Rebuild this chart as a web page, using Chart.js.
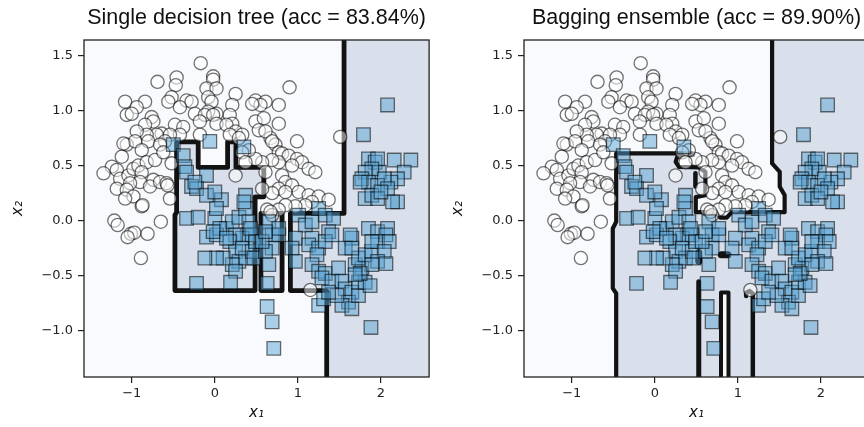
<!DOCTYPE html>
<html><head><meta charset="utf-8">
<script src="https://cdn.jsdelivr.net/npm/chart.js@4.4.1/dist/chart.umd.min.js"></script>
<style>
html,body{margin:0;padding:0;background:#fff;overflow:hidden;width:864px;height:427px;position:relative;}
canvas{position:absolute;top:0;}
#c1{left:0;} #c2{left:440px;}
</style></head><body>
<canvas id="c1" width="440" height="427"></canvas>
<canvas id="c2" width="440" height="427"></canvas>
<script>
// ---------- DATA ----------
const panelTitles = ['Single decision tree (acc = 83.84%)', 'Bagging ensemble (acc = 89.90%)'];
const xTickValues = [-1, 0, 1, 2];
const xTickLabels = ['\u22121', '0', '1', '2'];
const yTickValues = [-1.0, -0.5, 0.0, 0.5, 1.0, 1.5];
const yTickLabels = ['\u22121.0', '\u22120.5', '0.0', '0.5', '1.0', '1.5'];
const xRange = [-1.575, 2.58];
const yRange = [-1.42, 1.64];

// class 0 (circles)
const class0X = [-0.17,-0.02,-0.46,-0.02,-0.69,-0.47,-0.10,0.02,0.90,0.25,-1.08,-0.84,-0.94,-0.52,-0.56,-0.34,-0.28,-0.42,-0.08,-0.04,
0.49,0.61,0.77,0.55,0.45,0.21,0.02,-0.08,-0.24,-0.12,-0.02,0.18,-1.06,-1.00,-0.76,-0.74,-0.84,-0.64,-0.48,-0.38,
-0.18,0.02,0.21,0.14,0.49,0.59,0.77,0.53,0.25,0.18,0.33,-0.18,-0.42,-0.54,-0.70,-0.82,-0.94,-1.06,-0.96,-0.80,
-0.88,-0.60,0.29,0.67,0.73,0.99,0.61,0.69,0.77,0.81,0.89,0.99,1.05,1.13,1.21,0.93,0.77,0.69,0.57,0.49,
0.41,0.33,0.37,0.25,0.61,0.81,0.85,0.93,0.77,0.85,0.69,0.57,1.01,1.13,1.25,1.17,1.09,0.97,0.85,0.77,
0.63,0.69,1.37,1.51,-1.12,-1.24,-1.34,-1.18,-1.14,-1.04,-0.98,-0.92,-0.82,-0.72,-0.88,-0.74,-0.90,-1.02,-1.18,-1.06,
-0.78,-0.98,-1.08,-0.88,-0.66,-0.58,-0.52,-0.54,-1.21,-1.17,-1.01,-0.97,-1.05,-0.81,-0.65,-0.89,-0.66,-0.62,-1.10,1.15,
0.67,-0.57,-0.87];
const class0Y = [1.43,1.31,1.30,1.28,1.26,1.23,1.20,1.20,1.21,1.15,1.08,1.08,1.03,1.12,1.08,1.09,1.08,1.03,1.12,1.08,
1.09,1.08,1.05,1.05,1.06,1.05,0.97,0.99,0.97,0.96,0.96,0.96,0.96,0.97,0.94,0.90,0.87,0.79,0.87,0.85,
0.90,0.88,0.88,0.87,0.90,0.93,0.88,0.82,0.81,0.78,0.78,0.78,0.78,0.78,0.78,0.78,0.81,0.69,0.72,0.72,
0.64,0.72,0.75,0.75,0.69,0.72,0.81,0.72,0.62,0.61,0.59,0.56,0.53,0.47,0.44,0.50,0.53,0.55,0.53,0.56,
0.64,0.62,0.53,0.41,0.44,0.41,0.35,0.32,0.29,0.26,0.25,0.29,0.26,0.23,0.22,0.17,0.14,0.13,0.14,0.10,
0.10,0.05,0.19,0.76,0.58,0.49,0.43,0.46,0.38,0.41,0.47,0.50,0.53,0.55,0.44,0.37,0.35,0.34,0.29,0.28,
0.31,0.22,0.20,0.13,0.35,0.34,0.52,0.20,0.00,-0.04,-0.12,-0.11,-0.15,-0.12,-0.01,-0.34,0.69,0.62,0.70,-0.63,
0.08,0.32,0.14];

// class 1 (squares)
const class1X = [-0.50,-0.38,-0.36,-0.34,-0.06,-0.10,-0.28,-0.22,-0.24,-0.34,-0.20,0.00,0.08,0.02,-0.10,0.00,0.14,0.21,0.29,0.37,
0.37,0.35,0.41,0.39,0.33,0.25,0.18,0.25,0.29,0.37,0.33,0.21,0.25,0.10,0.02,-0.12,-0.10,0.02,0.06,-0.02,
-0.22,0.19,0.14,0.45,0.45,0.49,0.43,0.47,0.65,0.69,0.77,0.69,0.61,0.65,0.63,0.77,0.57,0.61,0.63,0.69,
0.71,1.01,1.09,1.17,1.25,1.33,1.43,1.17,0.97,0.93,0.97,1.13,1.25,1.37,1.33,1.41,1.23,1.17,1.25,1.33,
1.29,1.41,1.49,1.53,1.57,1.65,1.61,1.53,1.65,1.25,1.31,1.47,1.37,1.73,1.73,1.81,1.87,1.77,1.69,1.73,
1.81,1.89,1.65,1.63,1.57,1.65,1.85,1.96,2.08,2.06,1.96,1.89,2.10,2.04,1.96,2.06,1.89,1.75,1.69,1.88,
2.08,1.79,1.85,1.93,1.96,2.16,2.36,2.28,2.20,2.12,1.98,1.89,1.81,1.77,1.85,1.75,1.96,2.04,2.08,2.20,
2.14,1.81,1.89,1.96,2.00,0.35];
const class1Y = [0.69,0.59,0.49,0.44,0.72,0.41,0.31,0.29,0.35,0.02,0.03,0.02,0.19,0.11,0.23,0.26,-0.07,-0.01,0.03,0.23,
0.11,0.17,-0.01,-0.13,-0.16,-0.13,-0.19,-0.28,-0.37,-0.34,-0.25,-0.40,-0.46,-0.34,-0.34,-0.34,-0.15,-0.13,-0.07,-0.10,
-0.57,-0.56,-0.16,-0.13,-0.28,-0.19,-0.07,-0.34,-0.01,-0.13,-0.13,-0.25,-0.28,-0.40,-0.57,-0.07,-0.19,-0.10,-0.78,-0.92,
-1.16,0.05,-0.04,-0.01,0.11,0.05,0.02,-0.16,-0.16,-0.25,-0.37,-0.22,-0.25,-0.10,-0.19,-0.13,-0.31,-0.40,-0.46,-0.48,
-0.52,-0.55,-0.43,-0.55,-0.62,-0.65,-0.74,-0.77,-0.80,-0.77,-0.71,-0.68,-0.65,-0.68,-0.56,-0.56,-0.59,-0.43,-0.40,-0.34,
-0.31,-0.28,-0.16,-0.13,-0.25,-0.25,-0.07,-0.10,-0.07,-0.13,-0.19,-0.19,-0.19,-0.28,-0.37,-0.39,-0.40,-0.48,-0.49,-0.97,
1.05,0.78,0.56,0.53,0.56,0.55,0.55,0.44,0.38,0.35,0.44,0.47,0.44,0.38,0.35,0.35,0.32,0.38,0.29,0.17,
0.17,0.20,0.23,0.20,0.26,0.67];

// decision boundaries (data space)
const treeBoxA = [[-0.46,0.715],[-0.20,0.715],[-0.20,0.483],[0.154,0.483],[0.154,0.715],[0.254,0.715],[0.254,0.483],[0.59,0.483],[0.59,0.216],[0.485,0.216],[0.485,-0.635],[-0.48,-0.635],[-0.48,0.05],[-0.46,0.075],[-0.46,0.715]];
const treeBoxB = [[0.555,0.065],[0.81,0.065],[0.81,-0.635],[0.555,-0.635],[0.555,0.065]];
const treeEdgeC = [[1.556,1.64],[1.556,0.065],[0.91,0.065],[0.91,-0.635],[1.347,-0.635],[1.347,-1.42]];
const bagEdge = [[1.412,1.64],[1.412,0.519],[1.504,0.443],[1.504,0.307],[1.563,0.231],[1.563,0.077],[0.926,0.077],[0.866,0.027],[0.788,0.027],[0.728,0.077],[0.493,0.077],[0.493,0.213],[0.609,0.231],[0.609,0.443],[0.529,0.483],[0.290,0.488],[0.251,0.534],[0.270,0.579],[0.385,0.610],[-0.465,0.610],[-0.465,-0.011],[-0.506,-0.071],[-0.506,-0.615],[-0.465,-0.661],[-0.465,-1.42]];
const bagSliver = [[0.489,0.43],[0.489,0.31]];
const bagDotA = [[0.425,0.603],[0.45,0.603]];
const bagDotB = [[0.529,-0.29],[0.529,-0.37]];
const bagDotC = [[0.80,-0.31],[0.88,-0.31]];
const bagStem = [[0.529,-0.555],[0.529,-1.42]];
const bagU = [[0.797,-1.42],[0.797,-0.653],[0.887,-0.653],[0.887,-1.42]];
const bagHook = [[1.18,-1.42],[1.18,-0.665],[1.14,-0.64],[1.10,-0.655],[1.10,-0.685]];

// ---------- STYLE ----------
const COL0 = '#f8fafd', COL1 = '#d9e0eb', LINE = '#121212';

function pts(arr){ return arr.map(p => ({x:p[0], y:p[1]})); }
function zipXY(xs, ys){ return xs.map((v,i) => ({x:v, y:ys[i]})); }

function regionPlugin(base, polys){
  return { id:'regions', beforeDatasetsDraw(chart){
    const {ctx, chartArea:a, scales:{x, y}} = chart;
    ctx.save();
    ctx.beginPath(); ctx.rect(a.left, a.top, a.width, a.height); ctx.clip();
    ctx.fillStyle = base; ctx.fillRect(a.left, a.top, a.width, a.height);
    polys.forEach(p => {
      ctx.fillStyle = p.color; ctx.beginPath();
      p.pts.forEach((v,i) => { const px = x.getPixelForValue(v[0]), py = y.getPixelForValue(v[1]); if(i) ctx.lineTo(px,py); else ctx.moveTo(px,py); });
      ctx.closePath(); ctx.fill();
    });
    ctx.restore();
  }};
}
const framePlugin = { id:'frame', afterDraw(chart){
  const {ctx, chartArea:a} = chart;
  ctx.save(); ctx.strokeStyle = '#222'; ctx.lineWidth = 1.3;
  ctx.strokeRect(a.left, a.top, a.width, a.height); ctx.restore();
}};

function lineDs(arr, w, order){
  return { type:'scatter', showLine:true, data:pts(arr), borderColor:LINE, borderWidth:w, pointRadius:0,
    borderJoinStyle:'round', borderCapStyle:'round', fill:false, order:order };
}
function pointDatasets(){
  return [
    { data: zipXY(class1X, class1Y), pointStyle:'rect', pointRadius:9.6, backgroundColor:'rgba(85,160,210,0.48)', borderColor:'rgba(0,0,0,0.55)', borderWidth:1.3, order:0 },
    { data: zipXY(class0X, class0Y), pointStyle:'circle', pointRadius:6.6, backgroundColor:'rgba(255,255,255,0.5)', borderColor:'rgba(0,0,0,0.55)', borderWidth:1.3, order:1 }
  ];
}
function options(title){
  return {
    responsive:false, animation:false, devicePixelRatio:1,
    layout:{ padding:{ left:0, right:8, top:0, bottom:0 } },
    plugins:{ legend:{display:false}, tooltip:{enabled:false},
      title:{ display:true, text:title, fullSize:false, color:'#111', font:{family:'Liberation Sans', size:21.5, weight:'normal', lineHeight:1.1}, padding:{top:6, bottom:10.35} } },
    scales:{
      x:{ type:'linear', min:xRange[0], max:xRange[1],
        afterBuildTicks: s => { s.ticks = xTickValues.map(v => ({value:v})); },
        afterFit: s => { s.height = 50; },
        ticks:{ callback:(v,i) => xTickLabels[i], color:'#222', font:{family:'DejaVu Sans', size:13}, padding:3, maxRotation:0 },
        grid:{ drawOnChartArea:false, drawTicks:true, tickLength:6, tickColor:'#222', lineWidth:1.2 },
        border:{ display:false },
        title:{ display:true, text:'x\u2081', color:'#111', font:{family:'DejaVu Sans', size:15, style:'italic'}, padding:{top:0, bottom:5} } },
      y:{ type:'linear', min:yRange[0], max:yRange[1],
        afterBuildTicks: s => { s.ticks = yTickValues.map(v => ({value:v})); },
        afterFit: s => { s.width = 84; },
        ticks:{ callback:(v,i) => yTickLabels[i], color:'#222', font:{family:'DejaVu Sans', size:13}, padding:5 },
        grid:{ drawOnChartArea:false, drawTicks:true, tickLength:6, tickColor:'#222', lineWidth:1.2 },
        border:{ display:false },
        title:{ display:true, text:'x\u2082', color:'#111', font:{family:'DejaVu Sans', size:15, style:'italic'}, padding:{top:9, bottom:0} } }
    }
  };
}

// Panel 1: single tree
const xR = xRange, yR = yRange;
new Chart(document.getElementById('c1'), {
  type:'scatter',
  data:{ datasets:[ ...pointDatasets(), lineDs(treeBoxA,4.8,3), lineDs(treeBoxB,4.8,3), lineDs(treeEdgeC,4.8,3) ] },
  options: options(panelTitles[0]),
  plugins:[ regionPlugin(COL0, [
    {color:COL1, pts:treeBoxA}, {color:COL1, pts:treeBoxB},
    {color:COL1, pts:treeEdgeC.concat([[xR[1],yR[0]],[xR[1],yR[1]]])}
  ]), framePlugin ]
});

// Panel 2: bagging
new Chart(document.getElementById('c2'), {
  type:'scatter',
  data:{ datasets:[ ...pointDatasets(), lineDs(bagEdge,4.2,3), lineDs(bagSliver,4.5,3), lineDs(bagDotA,6,3), lineDs(bagDotB,7,3), lineDs(bagDotC,7,3), lineDs(bagStem,5,3), lineDs(bagU,4,3), lineDs(bagHook,4.5,3) ] },
  options: options(panelTitles[1]),
  plugins:[ regionPlugin(COL1, [
    {color:COL0, pts:bagEdge.concat([[xR[0],yR[0]],[xR[0],yR[1]]])},
    {color:COL0, pts:bagU}
  ]), framePlugin ]
});
</script>
</body></html>
